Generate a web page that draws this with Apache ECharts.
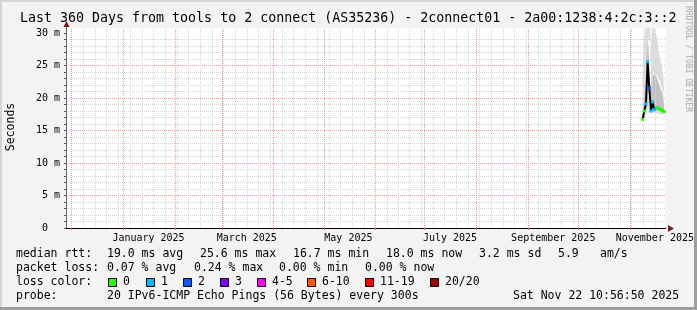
<!DOCTYPE html>
<html><head><meta charset="utf-8">
<script src="https://cdn.jsdelivr.net/npm/echarts@6/dist/echarts.min.js"></script>
<style>html,body{margin:0;padding:0;background:#f3f3f3;}#c{width:697px;height:310px;}</style>
</head><body><div id="c"></div>
<script>
// ---------- data ----------
const endTime = '2025-11-22T10:56:50Z';
const spanDays = 360;
const days = ['2025-11-08T16:00:00Z','2025-11-09T16:00:00Z','2025-11-10T16:00:00Z','2025-11-11T16:00:00Z',
  '2025-11-12T16:00:00Z','2025-11-13T16:00:00Z','2025-11-14T16:00:00Z','2025-11-15T16:00:00Z',
  '2025-11-16T16:00:00Z','2025-11-17T16:00:00Z','2025-11-18T16:00:00Z','2025-11-19T16:00:00Z',
  '2025-11-20T16:00:00Z','2025-11-21T16:00:00Z'];
const medianRtt = [16.7, 18.0, 19.1, 25.6, 21.5, 18.0, 19.4, 18.2, 18.4, 18.5, 18.3, 18.2, 18.0, 17.9];
const lossCount = [0, 0, 1, 1, 2, 1, 1, 1, 1, 0, 0, 0, 0, 0];
const smokeMin = [16.5, 17.5, 17.8, 18.5, 17.8, 17.6, 17.6, 17.8, 17.8, 17.6, 17.5, 17.4, 17.4, 17.4];
const smokeQ1  = [16.6, 17.8, 19.0, 25.0, 20.0, 18.0, 18.3, 18.3, 18.4, 18.4, 18.2, 18.0, 17.8, 17.7];
const smokeQ3  = [19.0, 21.0, 27.0, 29.5, 28.0, 21.0, 24.0, 23.5, 23.5, 23.0, 22.5, 21.5, 21.0, 20.0];
const smokeMax = [22.5, 26.5, 31.0, 31.0, 31.0, 26.0, 31.0, 31.0, 30.2, 29.5, 27.5, 26.0, 25.0, 23.0];
const xLabelDates = ['2025-01-16T00:00:00Z','2025-03-16T00:00:00Z','2025-05-16T00:00:00Z',
  '2025-07-16T00:00:00Z','2025-09-16T00:00:00Z','2025-11-16T00:00:00Z'];
const yLabelValues = [0, 5, 10, 15, 20, 25, 30];
const lossLegend = ['0','1','2','3','4-5','6-10','11-19','20/20'];
const lossColors = ['#26ff00','#00b8ff','#0059ff','#7e00ff','#ff00ff','#ff5500','#ff0000','#a10000'];
const title = 'Last 360 Days from tools to 2 connect (AS35236) - 2connect01 - 2a00:1238:4:2c:3::2';
const rttStats = ['19.0 ms avg','25.6 ms max','16.7 ms min','18.0 ms now','3.2 ms sd','5.9','am/s'];
const lossStats = ['0.07 % avg','0.24 % max','0.00 % min','0.00 % now'];
const probeText = '20 IPv6-ICMP Echo Pings (56 Bytes) every 300s';
const stampText = 'Sat Nov 22 10:56:50 2025';
const monthNames = ['January','February','March','April','May','June','July','August','September','October','November','December'];

// ---------- derived ----------
const endMs = Date.parse(endTime);
const startMs = endMs - spanDays * 864e5;
const T = s => Date.parse(s);
const yMax = 200 / 6.5;
const GRID_LEFT = 66, GRID_W = 601;
function lossIdx(n){ if(n<=0) return 0; if(n<=3) return n; if(n<=5) return 4; if(n<=10) return 5; if(n<=19) return 6; return 7; }

// grid line positions (calendar), snapped to pixel centres for crisp dotted lines
function snap(t) {
  const px = GRID_LEFT + (t - startMs) / (endMs - startMs) * GRID_W;
  const target = Math.floor(px) + 0.5;
  return startMs + (target - GRID_LEFT) / GRID_W * (endMs - startMs);
}
const monthStarts = [], weekStarts = [];
{
  const d = new Date(startMs);
  let y = d.getUTCFullYear(), m = d.getUTCMonth() + 1;
  while (true) { const t = Date.UTC(y, m, 1); if (t > endMs) break; monthStarts.push(t); m++; }
  let t = Date.UTC(d.getUTCFullYear(), d.getUTCMonth(), d.getUTCDate());
  while (new Date(t).getUTCDay() !== 0 || t < startMs) t += 864e5;
  for (; t < endMs; t += 7 * 864e5) weekStarts.push(t);
}

const pair = arr => days.map((d, i) => [T(d), arr[i]]);
const F = 'DejaVu Sans Mono';
const mono = (s) => s + 'px "' + F + '"';
const GREY = '#d4d4d4', RED = '#eb9a9a';

function txt(x, y, text, size, opts) {
  return Object.assign({ type: 'text', x: x, y: y, silent: true, z: 100,
    style: Object.assign({ text: text, font: mono(size), fill: '#000', align: 'left', verticalAlign: 'middle' }, (opts && opts.style) || {}) },
    opts && opts.rotation !== undefined ? { rotation: opts.rotation } : {});
}

const graphics = [
  { type: 'rect', shape: { x: 0, y: 0, width: 697, height: 2 }, style: { fill: '#d4d4d4' }, silent: true },
  { type: 'rect', shape: { x: 0, y: 0, width: 2, height: 310 }, style: { fill: '#d4d4d4' }, silent: true },
  { type: 'rect', shape: { x: 694, y: 0, width: 3, height: 310 }, style: { fill: '#9e9e9e' }, silent: true },
  { type: 'rect', shape: { x: 0, y: 307, width: 697, height: 3 }, style: { fill: '#9e9e9e' }, silent: true },
  { type: 'line', shape: { x1: 66.5, y1: 28, x2: 66.5, y2: 24 }, style: { stroke: '#666', lineWidth: 1 }, silent: true },
  { type: 'polygon', shape: { points: [[63.5, 27], [69.5, 27], [66.5, 21]] }, style: { fill: '#7f1a1a' }, silent: true, z: 101 },
  { type: 'polygon', shape: { points: [[668, 225], [668, 232], [674, 228.5]] }, style: { fill: '#7f1a1a' }, silent: true, z: 101 },
  txt(20, 19, title, 13.3),
  txt(11, 127, 'Seconds', 11.5, { rotation: Math.PI / 2, style: { align: 'center' } }),
  txt(688, 59, 'RRDTOOL / TOBI OETIKER', 8, { rotation: -Math.PI / 2, style: { align: 'center', fill: '#a8a8a8' } }),
  txt(16, 254, 'median rtt:', 11.5),
  txt(16, 268, 'packet loss:', 11.5),
  txt(16, 282, 'loss color:', 11.5),
  txt(16, 296, 'probe:', 11.5),
  txt(107, 296, probeText, 11.5),
  txt(513, 296, stampText, 11.5)
];
const rttX = [107, 200, 293, 386, 479, 558, 600];
rttStats.forEach((s, i) => graphics.push(txt(rttX[i], 254, s, 11.5)));
const lossX = [107, 194, 279, 365];
lossStats.forEach((s, i) => graphics.push(txt(lossX[i], 268, s, 11.5)));
const boxX = [108, 146, 183, 220, 257, 307, 365, 430];
lossLegend.forEach((s, i) => {
  graphics.push({ type: 'rect', shape: { x: boxX[i] + 0.5, y: 278.5, width: 8, height: 8 },
    style: { fill: lossColors[i], stroke: '#000', lineWidth: 1 }, silent: true, z: 100 });
  graphics.push(txt(boxX[i] + 15, 282, s, 11.5));
});

const noLabel = { show: false };
function gridLineSeries(values, color, z) {
  return {
    type: 'line', xAxisIndex: 0, data: pair(smokeMin), symbol: 'none', silent: true, z: z,
    lineStyle: { opacity: 0, width: 0 }, tooltip: { show: false },
    markLine: { silent: true, symbol: ['none', 'none'], label: noLabel, animation: false,
      lineStyle: { color: color, width: 1, type: [1, 1] },
      emphasis: { disabled: true },
      data: values.map(v => ({ xAxis: snap(v) })) }
  };
}
function band(name, arr, color) {
  return { name: name, type: 'line', xAxisIndex: 0, stack: 'smoke', step: 'middle', symbol: 'none', silent: true, z: 3,
    data: pair(arr), lineStyle: { width: 0, opacity: 0 }, areaStyle: { color: color || '#fff', opacity: color ? 1 : 0 } };
}

const option = {
  animation: false,
  useUTC: true,
  backgroundColor: '#f3f3f3',
  grid: { left: GRID_LEFT, top: 28, width: GRID_W, height: 200, show: true, backgroundColor: '#ffffff', borderWidth: 0, containLabel: false },
  xAxis: [
    { type: 'time', min: startMs, max: endMs, position: 'bottom',
      axisLine: { show: false }, axisTick: { show: false }, axisLabel: { show: false }, splitLine: { show: false } },
    { type: 'value', min: startMs, max: endMs, position: 'bottom',
      axisLine: { show: true, onZero: false, lineStyle: { color: '#000', width: 1 } },
      axisTick: { show: true, length: 2, customValues: monthStarts.map(snap), lineStyle: { color: '#e07070' } },
      splitLine: { show: false },
      axisLabel: { customValues: xLabelDates.map(T), fontFamily: F, fontSize: 10, color: '#000', margin: 5, hideOverlap: false,
        formatter: v => { const d = new Date(v); return monthNames[d.getUTCMonth()] + ' ' + d.getUTCFullYear(); } } }
  ],
  yAxis: {
    type: 'value', min: 0, max: yMax, interval: 1, position: 'left',
    axisLine: { show: true, onZero: false, lineStyle: { color: '#666', width: 1 } },
    axisTick: { show: true, length: 2, customValues: Array.from({ length: 31 }, (_, i) => i), lineStyle: { color: '#555' } },
    splitLine: { show: true, showMinLine: false, showMaxLine: false,
      lineStyle: { color: [GREY, GREY, GREY, GREY, RED], type: [1, 1] } },
    axisLabel: { customValues: yLabelValues, fontFamily: F, fontSize: 10, color: '#000', margin: 6,
      formatter: v => (v === 0 ? '0  ' : v + ' m') }
  },
  graphic: graphics,
  series: [
    gridLineSeries(weekStarts, GREY, 1),
    gridLineSeries(monthStarts, RED, 2),
    band('base', smokeMin, null),
    band('low', smokeQ1.map((v, i) => v - smokeMin[i]), '#dcdcdc'),
    band('mid', smokeQ3.map((v, i) => v - smokeQ1[i]), '#c2c2c2'),
    band('high', smokeMax.map((v, i) => v - smokeQ3[i]), '#dcdcdc'),
    { name: 'median', type: 'line', xAxisIndex: 0, z: 5, silent: true,
      data: days.map((d, i) => ({ value: [T(d), medianRtt[i]], itemStyle: { color: lossColors[lossIdx(lossCount[i])] } })),
      lineStyle: { color: '#000', width: 2 }, symbol: 'rect', symbolSize: 3, showAllSymbol: true,
      itemStyle: { borderWidth: 0 } }
  ]
};
const chart = echarts.init(document.getElementById('c'), null, { renderer: 'canvas' });
chart.setOption(option);
</script></body></html>
